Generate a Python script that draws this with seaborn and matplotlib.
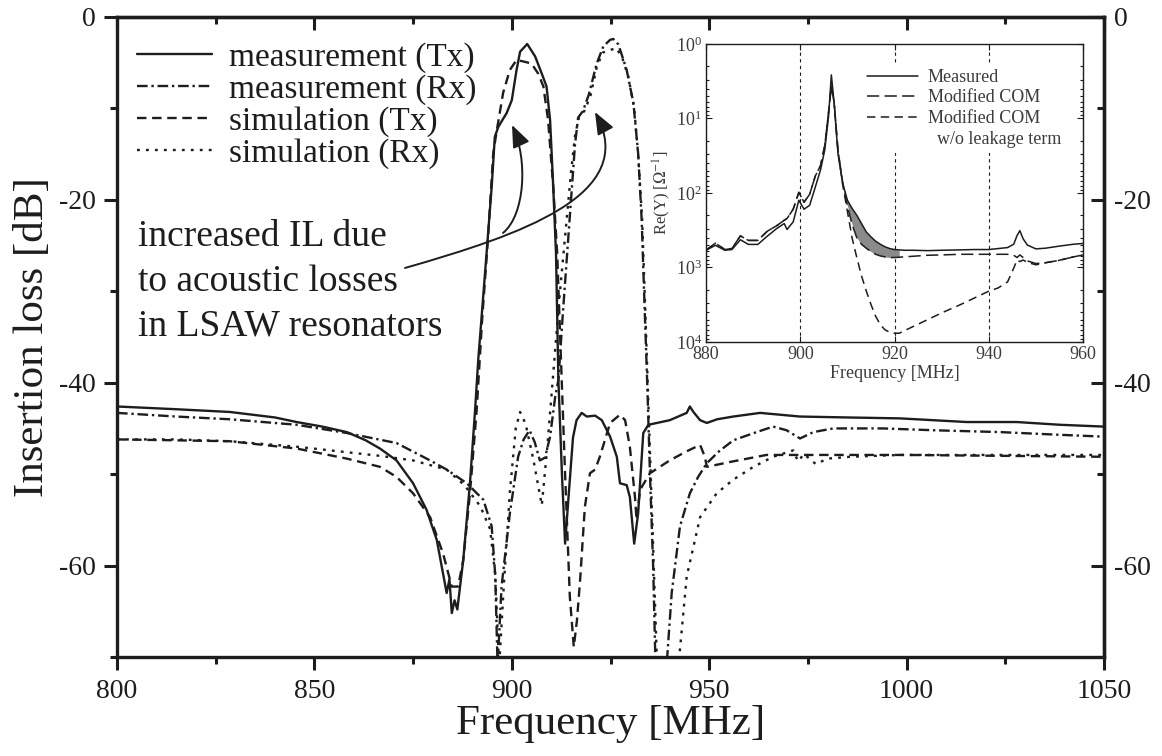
import numpy as np
import matplotlib
matplotlib.use("Agg")
import matplotlib.pyplot as plt
import seaborn as sns
from matplotlib.patches import FancyArrowPatch
from matplotlib.path import Path
from matplotlib.lines import Line2D
from matplotlib.ticker import MultipleLocator, LogLocator, NullFormatter

# ---------------- main chart data (frequency in MHz, insertion loss in dB) ----------------
meas_tx_freq = [800, 815, 828.6, 840, 845.5, 852, 858.2, 863, 866.6, 870.8, 875, 878.4, 881, 883.5,
                884.2, 884.8, 885.5, 886.2, 887.7, 889.4, 890.7, 891.5, 893.6, 894.9, 895.7, 896.6,
                898.7, 900, 901.2, 902.1, 903.9, 905.9, 907.6, 908.8, 909.7, 910.5, 911.2, 911.8,
                912.7, 913.5, 914.7, 915.5, 916.4, 917.7, 919, 921.1, 922.8, 924.9, 926.6, 927.4,
                929.1, 929.9, 931.0, 932.0, 933.3, 934.6, 940, 944.3, 945.1, 946, 947.7, 949.4,
                952, 956.1, 962.9, 973, 985, 998.3, 1015.2, 1027.9, 1038.8, 1050]
meas_tx_db = [-42.6, -42.9, -43.2, -43.8, -44.3, -44.8, -45.4, -46.3, -47.2, -48.5, -51.0, -53.9, -57.2, -63.0,
              -61.5, -65.2, -63.8, -64.8, -59.4, -51.0, -43.0, -37.5, -25.9, -18.6, -13.1, -12.0,
              -10.5, -9.1, -5.8, -3.8, -2.95, -4.3, -6.2, -7.6, -11.3, -18.6, -25.9, -39.7,
              -50.0, -57.6, -50.6, -46.0, -44.1, -43.3, -43.7, -43.6, -44.1, -45.9, -48.1, -51.0,
              -51.2, -52.5, -57.6, -54.3, -45.5, -44.6, -44.1, -43.3, -42.6, -43.2, -44.1, -44.4,
              -44.0, -43.7, -43.3, -43.7, -43.8, -43.9, -44.3, -44.3, -44.6, -44.8]

meas_rx_freq = [800, 815, 828.6, 845.5, 858.2, 870.8, 879.3, 883.5, 888.6, 892.8, 894.9, 895.8, 896.4,
                897.4, 899.5, 901.6, 903.0, 904.5, 905.8, 907.1, 908.4, 909.7, 911.0, 911.8, 913.0,
                914.0, 915.0, 916.0, 916.8, 918.0, 919.5, 921.5, 923.2, 924.9, 925.7, 927.0, 929.1,
                930.8, 932.0, 932.9, 933.5, 934.3, 935.0, 935.8, 936.4, 939.2, 940.5, 942.6, 945.1,
                947.2, 949.4, 952.5, 956.1, 962.0, 966.2, 969.6, 973.0, 976.4, 981.4, 994.1, 1006.8,
                1023.7, 1038.9, 1050]
meas_rx_db = [-43.3, -43.7, -44.0, -44.6, -45.5, -46.6, -48.5, -49.5, -51.0, -52.8, -55.7, -61.0, -71.0,
              -62.3, -54.3, -48.1, -46.2, -45.2, -46.5, -48.5, -48.2, -45.9, -41.5, -39.7, -32.0,
              -26.0, -20.0, -14.0, -11.0, -10.3, -8.5, -5.1, -3.2, -2.5, -2.4, -3.0, -5.8,
              -9.4, -14.9, -22.2, -30.0, -40.0, -50.0, -60.0, -71.0, -71.0, -63.0, -55.7, -52.1,
              -50.3, -48.8, -47.5, -46.3, -45.4, -44.8, -45.2, -46.1, -45.4, -45.0, -45.0, -45.2,
              -45.4, -45.7, -45.9]

sim_tx_freq = [800, 815, 828.6, 845.5, 858.2, 866.6, 870.8, 875, 879.3, 882.6, 884.8, 886.4, 887.7,
               889.4, 891.1, 892.5, 894, 895.3, 896.2, 897.8, 899.5, 901.2, 903.3, 905, 906.7, 908,
               909.2, 910.5, 911.5, 912.5, 913.5, 914.7, 915.7, 916.5, 917.3, 918.5, 919.8, 921.1,
               922.3, 924.9, 927.4, 928.7, 929.9, 931.2, 931.6, 932.5, 935, 940, 944.3, 947.7,
               948.9, 949.4, 956.1, 964.5, 973, 985, 1000, 1050]
sim_tx_db = [-46.2, -46.3, -46.4, -47.2, -48.3, -49.2, -50.3, -52.1, -54.7, -58.7, -62.3, -62.3, -59.4,
             -52.1, -43.0, -33.0, -24.0, -14.9, -12.4, -8.3, -5.8, -4.7, -4.9, -5.1, -6.2, -7.6,
             -11.3, -18.6, -25.9, -38.0, -50.0, -63.4, -68.9, -66.0, -61.6, -53.6, -49.9, -49.5,
             -48.1, -44.4, -43.5, -44.1, -47.0, -52.5, -55.0, -51.7, -49.9, -48.5, -47.5, -46.8,
             -48.1, -49.2, -48.6, -47.9, -47.9, -47.9, -47.9, -48.1]

sim_rx_freq = [800, 815, 828.6, 845.5, 858.2, 866.6, 875, 883.5, 888, 892, 894.5, 895.8, 896.8, 898.0,
               899.5, 901.0, 902.1, 903.5, 905.5, 907.6, 909.0, 910.5, 912, 913.5, 915.0, 916.0,
               917.0, 918.5, 920.0, 921.5, 923.0, 925.0, 926.5, 928.0, 929.5, 931.0, 932.0, 933.0,
               933.8, 934.8, 935.8, 936.8, 942.2, 944.3, 947.7, 951.9, 956.1, 961.2, 966.2, 971.3,
               972.5, 974, 977, 980, 985.7, 998.3, 1038.9, 1050]
sim_rx_db = [-46.2, -46.2, -46.4, -47.0, -47.6, -48.0, -48.5, -49.5, -51.2, -53.5, -56.0, -61.0, -71.0, -62.0,
             -52.0, -45.0, -43.2, -44.5, -48.5, -53.4, -47.0, -39.0, -31.0, -24.0, -17.0, -13.0,
             -11.0, -10.2, -8.5, -5.5, -3.9, -3.6, -3.4, -4.5, -6.5, -10.0, -15.0, -22.0,
             -32.0, -45.0, -58.0, -71.0, -71.0, -61.2, -54.7, -52.1, -50.6, -49.2, -48.1, -47.4,
             -48.6, -47.8, -48.9, -48.3, -48.1, -47.9, -47.9, -47.9]

series_labels = ["measurement (Tx)", "measurement (Rx)", "simulation (Tx)", "simulation (Rx)"]
annotation_text = "increased IL due\nto acoustic losses\nin LSAW resonators"

# ---------------- inset data (frequency in MHz, Re(Y) on the inset's decade scale) ----------------
inset_freq = [880, 882, 884, 885.5, 887.3, 889, 891, 893, 895, 896.6, 897.2, 898.5, 899.7, 900.8, 902,
              903.2, 904.3, 905.2, 906, 906.6, 907.2, 908, 909, 910, 911, 912, 913, 914, 915, 916,
              917, 918, 919, 920, 921, 922, 924, 927, 930, 934, 937, 940, 942, 944, 945.3, 946,
              946.6, 947.3, 948.2, 950, 952, 955, 958, 960]
inset_measured = [587, 504, 587, 574, 424, 490, 490, 380, 300, 257, 309, 244, 125, 165, 146,
                  83, 49, 26.5, 9.5, 2.6, 6.3, 29.5, 74, 125, 161, 199, 257, 333, 388, 444,
                  488, 528, 557, 574, 580, 587, 587, 594, 587, 580, 574, 574, 557, 540, 487, 373,
                  320, 413, 500, 562, 551, 516, 487, 476]
inset_com = [587, 471, 574, 556, 376, 433, 433, 326, 275, 232, 220, 165, 98, 133, 104,
             59, 43, 23, 8.3, 3.7, 6.2, 26.5, 72, 148, 264, 399, 488, 551, 612, 665,
             699, 720, 735, 735, 728, 720, 706, 685, 678, 665, 665, 665, 665, 665, 685, 735,
             678, 735, 815, 885, 864, 800, 720, 678]
inset_noleak = [587, 471, 574, 556, 376, 433, 433, 326, 275, 232, 220, 165, 98, 133, 104,
                59, 43, 23, 8.3, 3.7, 6.2, 26.5, 77, 175, 401, 735, 1295, 2060, 3130, 4520,
                5870, 6880, 7390, 7630, 7630, 7100, 6180, 5020, 4070, 3150, 2560, 2080, 1880, 1560,
                1020, 793, 832, 793, 853, 920, 864, 800, 720, 678]
inset_labels = ["Measured", "Modified COM", "Modified COM", "  w/o leakage term"]

INK = "#1e1c1d"
GREY_TXT = "#3c3c3c"

sns.set_theme(style="ticks")
plt.rcParams["font.family"] = ["Liberation Serif", "DejaVu Serif"]
plt.rcParams["mathtext.fontset"] = "stix"
plt.rcParams["axes.unicode_minus"] = False
plt.rcParams["text.color"] = INK
plt.rcParams["axes.labelcolor"] = INK
plt.rcParams["xtick.color"] = INK
plt.rcParams["ytick.color"] = INK
plt.rcParams["axes.edgecolor"] = INK

fig = plt.figure(figsize=(11.62, 7.56), dpi=100)
ax = fig.add_axes([117 / 1162, 1 - 657 / 756, 987 / 1162, 640 / 756])

ls_tx_meas = "-"
ls_rx_meas = (0, (4.5, 1.6, 1.0, 1.6))
ls_tx_sim = (0, (4.0, 2.4))
ls_rx_sim = (0, (1.2, 2.6))
styles = [ls_tx_meas, ls_rx_meas, ls_tx_sim, ls_rx_sim]
LW = 1.7

for fx, fy, ls in [(meas_tx_freq, meas_tx_db, ls_tx_meas), (meas_rx_freq, meas_rx_db, ls_rx_meas),
                   (sim_tx_freq, sim_tx_db, ls_tx_sim), (sim_rx_freq, sim_rx_db, ls_rx_sim)]:
    sns.lineplot(x=fx, y=fy, ax=ax, color=INK, linewidth=LW, linestyle=ls,
                 estimator=None, sort=False, legend=False)

ax.set_xlim(800, 1050)
ax.set_ylim(-70, 0)
ax.xaxis.set_major_locator(MultipleLocator(50))
ax.xaxis.set_minor_locator(MultipleLocator(25))
ax.yaxis.set_major_locator(MultipleLocator(20))
ax.yaxis.set_minor_locator(MultipleLocator(10))
for s in ax.spines.values():
    s.set_linewidth(2.4)
    s.set_color(INK)
ax.tick_params(which="both", direction="out", width=2.2, labelsize=20, pad=6)
ax.tick_params(which="major", length=9.5)
ax.tick_params(which="minor", length=5)
ax.set_xlabel("Frequency [MHz]", fontsize=31, labelpad=1)
ax.set_ylabel("Insertion loss [dB]", fontsize=31, labelpad=5)

# right and top tick marks (pointing inward)
ax_r = ax.secondary_yaxis("right")
ax_r.yaxis.set_major_locator(MultipleLocator(20))
ax_r.yaxis.set_minor_locator(MultipleLocator(10))
ax_r.tick_params(which="both", direction="in", width=2.2, labelsize=20, pad=7)
ax_r.tick_params(which="major", length=9.5)
ax_r.tick_params(which="minor", length=5)
ax_r.spines["right"].set_linewidth(2.4)
ax_t = ax.secondary_xaxis("top")
ax_t.xaxis.set_major_locator(MultipleLocator(50))
ax_t.xaxis.set_minor_locator(MultipleLocator(25))
ax_t.tick_params(which="both", direction="in", width=2.2, labeltop=False)
ax_t.tick_params(which="major", length=9.5)
ax_t.tick_params(which="minor", length=5)
ax_t.spines["top"].set_linewidth(2.4)

handles = [Line2D([], [], color=INK, lw=LW, linestyle=ls) for ls in styles]
ax.legend(handles, series_labels, loc="upper left", bbox_to_anchor=(0.0203, 0.960),
          frameon=False, fontsize=24, handlelength=2.25, handletextpad=0.5,
          labelspacing=0.03, borderpad=0, borderaxespad=0)

ax.text(0.0213, 0.587, annotation_text, transform=ax.transAxes, fontsize=27,
        ha="left", va="center", linespacing=1.39)

# curved arrows
long_verts = [(872.95, -27.45), (902.08, -23.84), (932.47, -19.47), (921.07, -10.39)]
short_verts = [(897.77, -23.62), (903.34, -21.66), (904.10, -15.64), (900.05, -11.81)]
codes = [Path.MOVETO, Path.CURVE4, Path.CURVE4, Path.CURVE4]
for verts in (long_verts, short_verts):
    arr = FancyArrowPatch(path=Path(verts, codes), arrowstyle="-|>,head_length=0.75,head_width=0.3",
                          mutation_scale=18, lw=1.4, color=INK, transform=ax.transData)
    ax.add_patch(arr)

# ---------------- inset ----------------
axi = fig.add_axes([706 / 1162, 1 - 342 / 756, 377 / 1162, 298 / 756])
axi.set_facecolor("white")
axi.fill_between(inset_freq, inset_measured, inset_com,
                 where=[(909 <= f <= 921) for f in inset_freq],
                 color="#8a8a8a", lw=0, zorder=1)
ls_meas_i = "-"
ls_com_i = (0, (8, 3.5))
ls_noleak_i = (0, (5.5, 3.5))
sns.lineplot(x=inset_freq, y=inset_measured, ax=axi, color=INK, linewidth=1.1, linestyle=ls_meas_i,
             estimator=None, sort=False, legend=False)
sns.lineplot(x=inset_freq, y=inset_com, ax=axi, color=INK, linewidth=1.1, linestyle=ls_com_i,
             estimator=None, sort=False, legend=False)
sns.lineplot(x=inset_freq, y=inset_noleak, ax=axi, color=INK, linewidth=1.1, linestyle=ls_noleak_i,
             estimator=None, sort=False, legend=False)
axi.set_yscale("log")
axi.set_ylim(1e4, 1)
axi.set_xlim(880, 960)
axi.xaxis.set_major_locator(MultipleLocator(20))
axi.yaxis.set_major_locator(LogLocator(base=10, numticks=10))
axi.yaxis.set_minor_locator(LogLocator(base=10, subs=np.arange(2, 10), numticks=20))
axi.yaxis.set_minor_formatter(NullFormatter())
axi.grid(axis="x", which="major", color=INK, linestyle=(0, (3, 3)), linewidth=0.8)
axi.grid(axis="y", visible=False)
for s in axi.spines.values():
    s.set_linewidth(1.0)
    s.set_color(INK)
axi.tick_params(which="both", direction="in", top=True, right=True, labelsize=13,
                labelcolor=GREY_TXT, width=0.8, pad=3)
axi.tick_params(which="major", length=4)
axi.tick_params(which="minor", length=2)
axi.set_xlabel("Frequency [MHz]", fontsize=13, color=GREY_TXT, labelpad=1)
axi.set_ylabel(r"Re(Y) [$\Omega^{\mathrm{-1}}$]", fontsize=12, color=GREY_TXT, labelpad=2)

ih = [Line2D([], [], color=INK, lw=1.1, linestyle=ls_meas_i),
      Line2D([], [], color=INK, lw=1.1, linestyle=ls_com_i),
      Line2D([], [], color=INK, lw=1.1, linestyle=ls_noleak_i),
      Line2D([], [], color="none", lw=0)]
leg = axi.legend(ih, inset_labels, loc="upper left", bbox_to_anchor=(0.39, 0.965), fontsize=13,
                 handlelength=2.8, handletextpad=0.55, labelspacing=0.2, borderpad=0.3,
                 frameon=True, fancybox=False, framealpha=1.0, edgecolor="none", facecolor="white")
for t in leg.get_texts():
    t.set_color(GREY_TXT)

fig.savefig("out.png", dpi=100)
